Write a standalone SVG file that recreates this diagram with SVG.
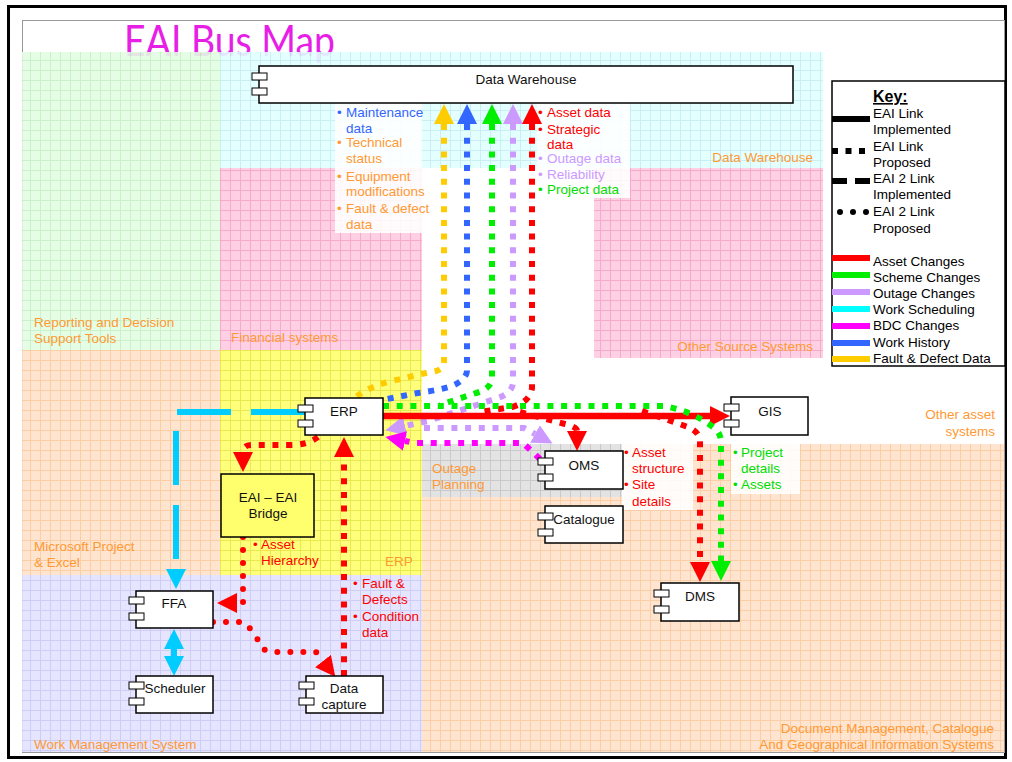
<svg xmlns="http://www.w3.org/2000/svg" width="1012" height="762" viewBox="0 0 1012 762">
<style>
.t{font-family:"Liberation Sans",Arial,sans-serif;font-size:13.5px}
.node{fill:#111}
.reg{fill:#ff9933}
.red{fill:#ff0000}.grn{fill:#00dd00}.lav{fill:#cc99ff}.blu{fill:#3366ff}.org{fill:#ff9933}
.box{fill:#fff;stroke:#000;stroke-width:1.5}
.tab{fill:#fff;stroke:#000;stroke-width:1}
.lbl{fill:#fff;opacity:0.88}
.sq{fill:none;stroke-width:6;stroke-dasharray:6 7.7}
.rd{fill:none;stroke-width:6;stroke-linecap:round;stroke-dasharray:0 13}
.key{font-family:"Liberation Sans",Arial,sans-serif;font-size:13.5px;fill:#000}
</style>
<defs>
<pattern id="pG" width="10" height="10" patternUnits="userSpaceOnUse"><rect width="10" height="10" fill="#e3fde3"/><path d="M0,0.5H10M0.5,0V10" stroke="#c6f0c6" stroke-width="1"/></pattern>
<pattern id="pC" width="10" height="10" patternUnits="userSpaceOnUse"><rect width="10" height="10" fill="#e2ffff"/><path d="M0,0.5H10M0.5,0V10" stroke="#c4eef2" stroke-width="1"/></pattern>
<pattern id="pP" width="10" height="10" patternUnits="userSpaceOnUse"><rect width="10" height="10" fill="#ffcce2"/><path d="M0,0.5H10M0.5,0V10" stroke="#f6a2c8" stroke-width="1"/></pattern>
<pattern id="pY" width="10" height="10" patternUnits="userSpaceOnUse"><rect width="10" height="10" fill="#ffff6e"/><path d="M0,0.5H10M0.5,0V10" stroke="#e6e640" stroke-width="1"/></pattern>
<pattern id="pO" width="10" height="10" patternUnits="userSpaceOnUse"><rect width="10" height="10" fill="#ffe2cb"/><path d="M0,0.5H10M0.5,0V10" stroke="#fbc99c" stroke-width="1"/></pattern>
<pattern id="pL" width="10" height="10" patternUnits="userSpaceOnUse"><rect width="10" height="10" fill="#e3e3ff"/><path d="M0,0.5H10M0.5,0V10" stroke="#c8c8f4" stroke-width="1"/></pattern>
<pattern id="pS" width="10" height="10" patternUnits="userSpaceOnUse"><rect width="10" height="10" fill="#e0e0e0"/><path d="M0,0.5H10M0.5,0V10" stroke="#c4c4c4" stroke-width="1"/></pattern>
<marker id="aR" viewBox="0 0 20 20" refX="0" refY="10" markerWidth="20" markerHeight="20" markerUnits="userSpaceOnUse" orient="auto-start-reverse"><path d="M0,0L20,10L0,20z" fill="#ff0000"/></marker>
<marker id="aG" viewBox="0 0 20 20" refX="0" refY="10" markerWidth="20" markerHeight="20" markerUnits="userSpaceOnUse" orient="auto-start-reverse"><path d="M0,0L20,10L0,20z" fill="#00ee00"/></marker>
<marker id="aB" viewBox="0 0 20 20" refX="0" refY="10" markerWidth="20" markerHeight="20" markerUnits="userSpaceOnUse" orient="auto-start-reverse"><path d="M0,0L20,10L0,20z" fill="#3366ff"/></marker>
<marker id="aY" viewBox="0 0 20 20" refX="0" refY="10" markerWidth="20" markerHeight="20" markerUnits="userSpaceOnUse" orient="auto-start-reverse"><path d="M0,0L20,10L0,20z" fill="#ffcc00"/></marker>
<marker id="aL" viewBox="0 0 20 20" refX="0" refY="10" markerWidth="20" markerHeight="20" markerUnits="userSpaceOnUse" orient="auto-start-reverse"><path d="M0,0L20,10L0,20z" fill="#cc99ff"/></marker>
<marker id="aM" viewBox="0 0 20 20" refX="0" refY="10" markerWidth="20" markerHeight="20" markerUnits="userSpaceOnUse" orient="auto-start-reverse"><path d="M0,0L20,10L0,20z" fill="#ff00ff"/></marker>
<marker id="aC" viewBox="0 0 20 20" refX="0" refY="10" markerWidth="20" markerHeight="20" markerUnits="userSpaceOnUse" orient="auto-start-reverse"><path d="M0,0L20,10L0,20z" fill="#00ccff"/></marker>
</defs>

<rect x="8.5" y="6.5" width="997" height="751" fill="#fff" stroke="#000" stroke-width="3"/>
<rect x="22.5" y="20.5" width="982" height="732" fill="none" stroke="#999" stroke-width="1"/>

<text x="124" y="56" font-family="Lato,'Open Sans',sans-serif" font-size="42" fill="#e61ee6" textLength="211" lengthAdjust="spacingAndGlyphs">EAI Bus Map</text>

<g id="regions" opacity="0.9">
<rect x="22" y="52" width="198" height="298" fill="url(#pG)"/>
<rect x="220" y="52" width="603" height="116" fill="url(#pC)"/>
<rect x="220" y="168" width="202" height="182" fill="url(#pP)"/>
<rect x="594" y="168" width="229" height="190" fill="url(#pP)"/>
<rect x="22" y="350" width="198" height="225" fill="url(#pO)"/>
<rect x="220" y="350" width="202" height="225" fill="url(#pY)"/>
<rect x="22" y="575" width="400" height="177" fill="url(#pL)"/>
<rect x="422" y="444" width="582" height="308" fill="url(#pO)"/>
<rect x="422" y="444" width="200" height="53" fill="url(#pS)"/>
</g>

<g id="region-labels" class="t reg">
<text x="34" y="327">Reporting and Decision</text>
<text x="34" y="343">Support Tools</text>
<text x="231" y="342">Financial systems</text>
<text x="813" y="162" text-anchor="end">Data Warehouse</text>
<text x="813" y="351" text-anchor="end">Other Source Systems</text>
<text x="995" y="419" text-anchor="end">Other asset</text>
<text x="995" y="436" text-anchor="end">systems</text>
<text x="432" y="473">Outage</text>
<text x="432" y="489">Planning</text>
<text x="385" y="566">ERP</text>
<text x="34" y="551">Microsoft Project</text>
<text x="34" y="567">&amp; Excel</text>
<text x="34" y="749">Work Management System</text>
<text x="994" y="733" text-anchor="end">Document Management, Catalogue</text>
<text x="994" y="749" text-anchor="end">And Geographical Information Systems</text>
</g>

<g id="data-labels" class="t">
<rect class="lbl" x="335" y="103" width="87" height="130"/>
<rect class="lbl" x="537" y="103" width="93" height="95"/>
<rect class="lbl" x="622" y="444" width="71" height="66"/>
<rect class="lbl" x="731" y="444" width="69" height="50"/>
<text class="blu"><tspan x="337" y="117">•</tspan><tspan x="346" y="117">Maintenance</tspan><tspan x="346" y="133">data</tspan></text>
<text class="org"><tspan x="337" y="147">•</tspan><tspan x="346" y="147">Technical</tspan><tspan x="346" y="163">status</tspan><tspan x="337" y="181">•</tspan><tspan x="346" y="181">Equipment</tspan><tspan x="346" y="196">modifications</tspan><tspan x="337" y="213">•</tspan><tspan x="346" y="213">Fault &amp; defect</tspan><tspan x="346" y="229">data</tspan></text>
<text class="red"><tspan x="538" y="117">•</tspan><tspan x="547" y="117">Asset data</tspan><tspan x="538" y="134">•</tspan><tspan x="547" y="134">Strategic</tspan><tspan x="547" y="149">data</tspan></text>
<text class="lav"><tspan x="538" y="163">•</tspan><tspan x="547" y="163">Outage data</tspan><tspan x="538" y="179">•</tspan><tspan x="547" y="179">Reliability</tspan></text>
<text class="grn"><tspan x="538" y="194">•</tspan><tspan x="547" y="194">Project data</tspan></text>
<text class="red"><tspan x="624" y="457">•</tspan><tspan x="632" y="457">Asset</tspan><tspan x="632" y="473">structure</tspan><tspan x="624" y="489">•</tspan><tspan x="632" y="489">Site</tspan><tspan x="632" y="506">details</tspan></text>
<text class="grn"><tspan x="733" y="457">•</tspan><tspan x="741" y="457">Project</tspan><tspan x="741" y="473">details</tspan><tspan x="733" y="489">•</tspan><tspan x="741" y="489">Assets</tspan></text>
<text class="red"><tspan x="253" y="549">•</tspan><tspan x="261" y="549">Asset</tspan><tspan x="261" y="565">Hierarchy</tspan></text>
<text class="red"><tspan x="353" y="588">•</tspan><tspan x="362" y="588">Fault &amp;</tspan><tspan x="362" y="604">Defects</tspan><tspan x="353" y="621">•</tspan><tspan x="362" y="621">Condition</tspan><tspan x="362" y="637">data</tspan></text>
</g>

<g id="connectors">
<path d="M305,412H176V569" fill="none" stroke="#00ccff" stroke-width="6" stroke-dasharray="54 20" marker-end="url(#aC)"/>
<path d="M174,649V656" fill="none" stroke="#00ccff" stroke-width="6" marker-start="url(#aC)" marker-end="url(#aC)"/>
<path class="sq" stroke="#ffcc00" d="M444,124V362Q444,371 430,372L392,381Q370,386 356,397" marker-start="url(#aY)"/>
<path class="sq" stroke="#3366ff" d="M467,124V371Q466,380 452,386Q440,390 418,393L382,400" marker-start="url(#aB)"/>
<path class="sq" stroke="#00ee00" d="M492,124V380Q490,389 476,393L440,405" marker-start="url(#aG)"/>
<path class="sq" stroke="#cc99ff" d="M513,124V383Q512,393 498,398L428,421L405,426" marker-start="url(#aL)" marker-end="url(#aL)"/>
<path class="sq" stroke="#ff0000" d="M532,124V388Q530,402 512,407L480,412" marker-start="url(#aR)"/>
<path d="M383,416H710" fill="none" stroke="#ff0000" stroke-width="6.5" marker-end="url(#aR)"/>
<path class="sq" stroke="#00ee00" d="M383,406H663Q690,410 713,427Q721,433 721,442V561" marker-end="url(#aG)"/>
<path class="sq" stroke="#ff0000" d="M520,412L565,424Q577,427 577,431" marker-end="url(#aR)"/>
<path class="sq" stroke="#ff0000" d="M642,411L688,427Q700,432 700,442V562" marker-end="url(#aR)"/>
<path class="sq" stroke="#cc99ff" d="M424,428H524L535,434" marker-end="url(#aL)"/>
<path class="sq" stroke="#ff00ff" d="M540,459L523,443H415L405,441" marker-end="url(#aM)"/>
<path class="sq" stroke="#ff0000" d="M318,437Q308,445 290,445H252Q243,445 243,452" marker-end="url(#aR)"/>
<path class="sq" stroke="#ff0000" d="M344,676V457" marker-end="url(#aR)"/>
<path class="rd" stroke="#ff0000" d="M243,537V603H237" marker-end="url(#aR)"/>
<path class="rd" stroke="#ff0000" d="M213,622H240Q248,624 254,634L264,649Q266,652 272,652H316L323,661" marker-end="url(#aR)"/>
</g>

<g id="dw"><rect class="box" x="259" y="66" width="534" height="37"/><rect class="tab" x="252" y="73" width="15" height="7"/><rect class="tab" x="252" y="88" width="15" height="7"/><text class="t node" x="526" y="84" text-anchor="middle">Data Warehouse</text></g>
<g id="erp"><rect class="box" x="305" y="398" width="78" height="37"/><rect class="tab" x="298" y="405" width="15" height="7"/><rect class="tab" x="298" y="420" width="15" height="7"/><text class="t node" x="344" y="416" text-anchor="middle">ERP</text></g>
<g id="bridge"><rect x="221" y="474" width="93" height="63" fill="#ffff6e" stroke="#000" stroke-width="1.5"/><text class="t node" x="268" y="502" text-anchor="middle">EAI – EAI</text><text class="t node" x="268" y="518" text-anchor="middle">Bridge</text></g>
<g id="gis"><rect class="box" x="731" y="397" width="77" height="38"/><rect class="tab" x="724" y="404" width="15" height="7"/><rect class="tab" x="724" y="420" width="15" height="7"/><text class="t node" x="770" y="416" text-anchor="middle">GIS</text></g>
<g id="oms"><rect class="box" x="545" y="451" width="78" height="38"/><rect class="tab" x="538" y="458" width="15" height="7"/><rect class="tab" x="538" y="474" width="15" height="7"/><text class="t node" x="584" y="470" text-anchor="middle">OMS</text></g>
<g id="catalogue"><rect class="box" x="545" y="506" width="78" height="37"/><rect class="tab" x="538" y="513" width="15" height="7"/><rect class="tab" x="538" y="529" width="15" height="7"/><text class="t node" x="584" y="524" text-anchor="middle">Catalogue</text></g>
<g id="dms"><rect class="box" x="661" y="583" width="78" height="38"/><rect class="tab" x="654" y="590" width="15" height="7"/><rect class="tab" x="654" y="606" width="15" height="7"/><text class="t node" x="700" y="601" text-anchor="middle">DMS</text></g>
<g id="ffa"><rect class="box" x="136" y="591" width="77" height="37"/><rect class="tab" x="129" y="597" width="15" height="7"/><rect class="tab" x="129" y="613" width="15" height="7"/><text class="t node" x="174" y="608" text-anchor="middle">FFA</text></g>
<g id="scheduler"><rect class="box" x="136" y="676" width="77" height="37"/><rect class="tab" x="129" y="682" width="15" height="7"/><rect class="tab" x="129" y="698" width="15" height="7"/><text class="t node" x="175" y="693" text-anchor="middle">Scheduler</text></g>
<g id="datacapture"><rect class="box" x="306" y="676" width="77" height="37"/><rect class="tab" x="299" y="682" width="15" height="7"/><rect class="tab" x="299" y="698" width="15" height="7"/><text class="t node" x="344" y="693" text-anchor="middle">Data</text><text class="t node" x="344" y="709" text-anchor="middle">capture</text></g>

<g id="key">
<rect x="832" y="81" width="173" height="285" fill="#fff" stroke="#000" stroke-width="1.5"/>
<text x="873" y="102" font-family="Liberation Sans,Arial,sans-serif" font-size="16" font-weight="bold" text-decoration="underline">Key:</text>
<line x1="832" y1="119" x2="870" y2="119" stroke="#000" stroke-width="6"/>
<line x1="832" y1="151" x2="870" y2="151" stroke="#000" stroke-width="6" stroke-dasharray="6 7.5"/>
<line x1="832" y1="181" x2="870" y2="181" stroke="#000" stroke-width="6" stroke-dasharray="15 8"/>
<circle cx="840" cy="212" r="3"/><circle cx="853" cy="212" r="3"/><circle cx="866" cy="212" r="3"/>
<line x1="832" y1="258" x2="870" y2="258" stroke="#ff0000" stroke-width="6"/>
<line x1="832" y1="275" x2="870" y2="275" stroke="#00ee00" stroke-width="6"/>
<line x1="832" y1="292" x2="870" y2="292" stroke="#cc99ff" stroke-width="6"/>
<line x1="832" y1="309" x2="870" y2="309" stroke="#00ffff" stroke-width="6"/>
<line x1="832" y1="326" x2="870" y2="326" stroke="#ff00ff" stroke-width="6"/>
<line x1="832" y1="343" x2="870" y2="343" stroke="#3366ff" stroke-width="6"/>
<line x1="832" y1="359" x2="870" y2="359" stroke="#ffcc00" stroke-width="6"/>
<text class="key" x="873" y="118">EAI Link</text>
<text class="key" x="873" y="134">Implemented</text>
<text class="key" x="873" y="151">EAI Link</text>
<text class="key" x="873" y="167">Proposed</text>
<text class="key" x="873" y="183">EAI 2 Link</text>
<text class="key" x="873" y="199">Implemented</text>
<text class="key" x="873" y="216">EAI 2 Link</text>
<text class="key" x="873" y="233">Proposed</text>
<text class="key" x="873" y="266">Asset Changes</text>
<text class="key" x="873" y="282">Scheme Changes</text>
<text class="key" x="873" y="298">Outage Changes</text>
<text class="key" x="873" y="314">Work Scheduling</text>
<text class="key" x="873" y="330">BDC Changes</text>
<text class="key" x="873" y="347">Work History</text>
<text class="key" x="873" y="363">Fault &amp; Defect Data</text>
</g>
</svg>
